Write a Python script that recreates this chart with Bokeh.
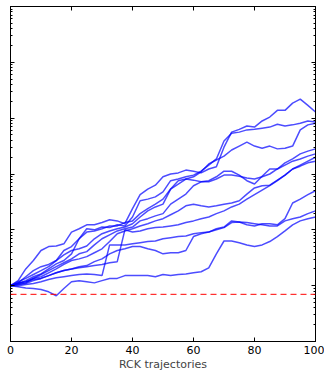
from bokeh.plotting import figure
from bokeh.models import (Range1d, LogAxis, LinearAxis, FixedTicker, Span,
                          CustomJSTickFormatter, CustomLabelingPolicy)
from bokeh.embed import file_html
from bokeh.resources import INLINE

# time steps
steps = [0, 2.5, 5, 7.5, 10, 12.5, 15, 17.5, 20, 22.5, 25, 27.5, 30, 32.5, 35, 37.5,
         40, 42.5, 45, 47.5, 50, 52.5, 55, 57.5, 60, 62.5, 65, 67.5, 70, 72.5, 75,
         77.5, 80, 82.5, 85, 87.5, 90, 92.5, 95, 97.5, 100]

# log10 of wealth along each trajectory
log_w_1 = [0, 0.09, 0.30, 0.45, 0.63, 0.70, 0.71, 0.75, 0.96, 1.02, 1.09, 1.09, 1.13, 1.18, 1.16, 1.11,
           1.38, 1.63, 1.73, 1.80, 1.95, 2.00, 2.02, 2.07, 2.05, 2.02, 2.09, 2.13, 2.48, 2.75, 2.80,
           2.86, 2.84, 2.95, 3.02, 3.14, 3.14, 3.27, 3.34, 3.23, 3.11]
log_w_2 = [0, 0.05, 0.16, 0.27, 0.34, 0.38, 0.45, 0.63, 0.70, 0.84, 1.02, 1.00, 1.05, 1.04, 1.09, 1.07,
           1.23, 1.52, 1.55, 1.59, 1.68, 1.88, 1.91, 1.95, 1.98, 2.05, 2.16, 2.27, 2.59, 2.73, 2.75,
           2.79, 2.80, 2.82, 2.84, 2.89, 2.86, 2.88, 2.91, 2.95, 2.93]
log_w_3 = [0, 0.04, 0.09, 0.16, 0.21, 0.30, 0.39, 0.45, 0.57, 0.84, 0.96, 0.98, 1.02, 1.07, 1.07, 1.13,
           1.16, 1.29, 1.38, 1.46, 1.55, 1.73, 1.82, 1.91, 1.95, 2.04, 2.18, 2.25, 2.32, 2.43, 2.50,
           2.57, 2.50, 2.46, 2.50, 2.45, 2.46, 2.50, 2.79, 2.88, 2.91]
log_w_4 = [0, 0.07, 0.13, 0.20, 0.27, 0.34, 0.45, 0.55, 0.63, 0.66, 0.71, 0.84, 0.93, 0.98, 1.02, 1.05,
           1.11, 1.23, 1.34, 1.41, 1.46, 1.73, 1.88, 1.91, 1.89, 1.86, 1.88, 1.95, 2.05, 2.05, 1.98,
           1.88, 1.82, 1.96, 2.09, 2.09, 2.20, 2.27, 2.36, 2.41, 2.45]
log_w_5 = [0, 0.02, 0.05, 0.13, 0.20, 0.27, 0.34, 0.41, 0.48, 0.57, 0.61, 0.73, 0.84, 0.91, 0.98, 1.02,
           1.05, 1.16, 1.20, 1.25, 1.29, 1.46, 1.55, 1.64, 1.79, 1.86, 1.86, 1.91, 1.98, 1.98, 1.96,
           1.93, 1.91, 1.95, 2.00, 2.09, 2.16, 2.23, 2.27, 2.32, 2.36]
log_w_6 = [0, 0.05, 0.07, 0.13, 0.16, 0.23, 0.30, 0.38, 0.45, 0.48, 0.52, 0.59, 0.66, 0.79, 0.93, 0.98,
           1.02, 1.07, 1.11, 1.16, 1.20, 1.27, 1.34, 1.43, 1.46, 1.43, 1.41, 1.43, 1.46, 1.48, 1.52,
           1.64, 1.75, 1.79, 1.80, 1.89, 1.98, 2.09, 2.14, 2.20, 2.23]
log_w_7 = [0, 0.02, 0.04, 0.09, 0.13, 0.18, 0.23, 0.27, 0.30, 0.32, 0.34, 0.36, 0.38, 0.41, 0.43, 1.00,
           0.96, 0.98, 1.02, 1.04, 1.05, 1.07, 1.09, 1.13, 1.16, 1.20, 1.23, 1.29, 1.34, 1.41, 1.46,
           1.55, 1.63, 1.71, 1.79, 1.88, 1.98, 2.09, 2.16, 2.23, 2.30]
log_w_8 = [0, 0, 0.02, 0.04, 0.07, 0.11, 0.14, 0.16, 0.18, 0.20, 0.21, 0.20, 0.18, 0.73, 0.73, 0.73,
           0.75, 0.77, 0.79, 0.80, 0.84, 0.86, 0.88, 0.89, 0.93, 0.95, 0.96, 1.02, 1.05, 1.16, 1.14,
           1.09, 1.07, 1.11, 1.11, 1.09, 1.20, 1.48, 1.55, 1.63, 1.70]
log_w_9 = [0, 0.04, 0.07, 0.11, 0.13, 0.18, 0.23, 0.27, 0.30, 0.34, 0.36, 0.43, 0.48, 0.57, 0.63, 0.66,
           0.70, 0.70, 0.66, 0.63, 0.57, 0.59, 0.59, 0.63, 0.88, 0.93, 0.96, 1.00, 1.04, 1.13, 1.14,
           1.13, 1.11, 1.09, 1.07, 1.07, 1.16, 1.20, 1.23, 1.29, 1.34]
log_w_10 = [0, -0.02, -0.04, -0.05, -0.07, -0.11, -0.18, -0.05, 0.07, 0.09, 0.07, 0.05, 0.09, 0.13, 0.13,
            0.18, 0.18, 0.18, 0.18, 0.16, 0.20, 0.18, 0.20, 0.21, 0.23, 0.25, 0.32, 0.57, 0.80, 0.80,
            0.77, 0.73, 0.70, 0.73, 0.79, 0.88, 0.98, 1.09, 1.16, 1.20, 1.23]
log_wealth = [log_w_1, log_w_2, log_w_3, log_w_4, log_w_5, log_w_6, log_w_7, log_w_8, log_w_9, log_w_10]

# drawdown threshold (wealth)
alpha_level = 0.7

# axis ticks
x_ticks = [0, 20, 40, 60, 80, 100]
y_major = [0.1, 1, 10, 100, 1000, 10000, 100000]
y_minor = [m * d for d in [0.1, 1, 10, 100, 1000, 10000] for m in range(2, 10)]

FONT = "DejaVu Sans"

p = figure(width=324, height=373, y_axis_type="log",
           x_range=Range1d(0, 100), y_range=Range1d(0.1, 1e5),
           output_backend="svg", toolbar_location=None,
           min_border_left=10, min_border_right=9, min_border_top=6, min_border_bottom=0)
p.grid.visible = False
p.outline_line_color = "black"
p.outline_line_width = 1
p.background_fill_color = "white"
p.border_fill_color = "white"

for lw in log_wealth:
    wealth = [10 ** v for v in lw]
    p.line(steps, wealth, line_color="blue", line_width=1.5, line_alpha=0.7)

p.add_layout(Span(location=alpha_level, dimension="width", line_color="red",
                  line_dash="6 4", line_width=1))


def no_labels():
    return dict(formatter=CustomJSTickFormatter(code="return ''"),
                major_label_policy=CustomLabelingPolicy(code="return new Set()"),
                major_label_standoff=0)


# bottom x axis
xa = p.xaxis[0]
xa.ticker = FixedTicker(ticks=x_ticks)
xa.major_tick_in = 4
xa.major_tick_out = 0
xa.minor_tick_line_color = None
xa.major_label_text_font = FONT
xa.major_label_text_font_size = "11px"
xa.major_label_text_color = "black"
xa.major_label_standoff = 4
xa.axis_label = "RCK trajectories"
xa.axis_label_text_font = FONT
xa.axis_label_text_font_size = "11px"
xa.axis_label_text_font_style = "normal"
xa.axis_label_standoff = 1
xa.axis_line_color = "black"

# left y axis (no labels)
ya = p.yaxis[0]
ya.ticker = FixedTicker(ticks=y_major, minor_ticks=y_minor)
ya.major_tick_in = 4
ya.major_tick_out = 0
ya.minor_tick_in = 2
ya.minor_tick_out = 0
ya.axis_line_color = "black"
for k, v in no_labels().items():
    setattr(ya, k, v)

# top and right mirror axes
top = LinearAxis(ticker=FixedTicker(ticks=x_ticks), major_tick_in=4, major_tick_out=0,
                 minor_tick_line_color=None, axis_line_color="black", **no_labels())
p.add_layout(top, "above")
right = LogAxis(ticker=FixedTicker(ticks=y_major, minor_ticks=y_minor), major_tick_in=4,
                major_tick_out=0, minor_tick_in=2, minor_tick_out=0,
                axis_line_color="black", **no_labels())
p.add_layout(right, "right")

open("out.html", "w").write(file_html(p, INLINE))
